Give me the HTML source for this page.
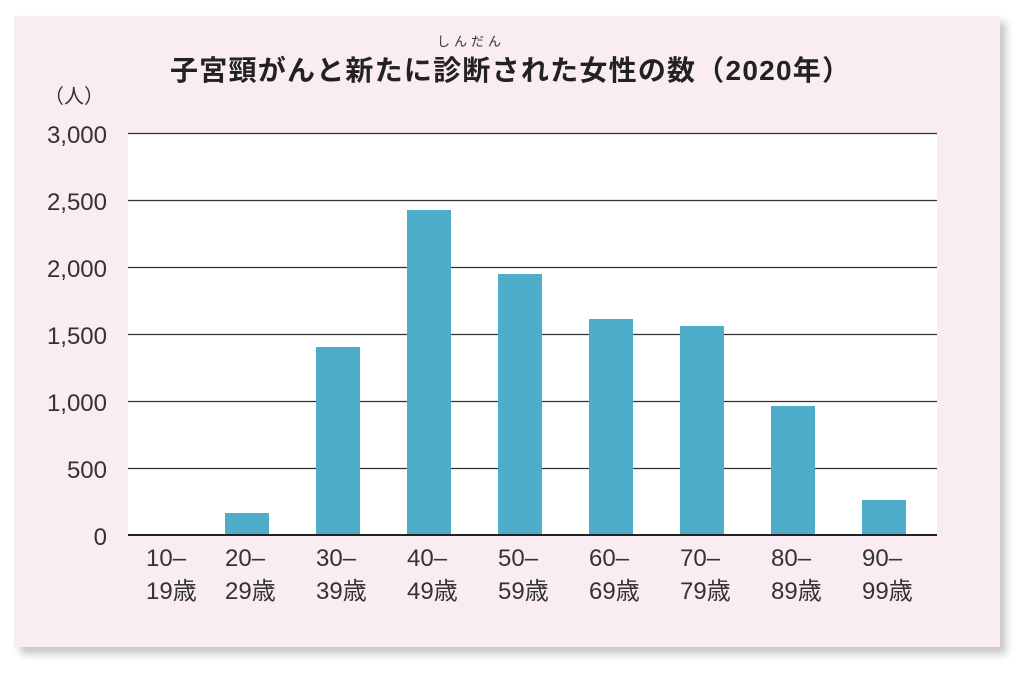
<!DOCTYPE html>
<html><head><meta charset="utf-8"><style>
body{margin:0;background:#fff;width:1024px;height:675px;overflow:hidden}
svg{display:block}
text{font-family:"Liberation Sans","Noto Sans CJK JP",sans-serif}
</style></head><body>
<svg width="1024" height="675" viewBox="0 0 1024 675">
<defs><filter id="sh" x="-5%" y="-5%" width="115%" height="115%"><feGaussianBlur stdDeviation="4"/></filter></defs>
<rect x="20" y="22" width="986" height="632" fill="#999" opacity="0.55" filter="url(#sh)"/>
<rect x="14" y="16" width="986" height="631" fill="#f9edf3"/>
<rect x="128" y="133" width="809" height="402" fill="#fff"/>
<g stroke="#333" stroke-width="1.2">
<line x1="128" y1="133.5" x2="937" y2="133.5"/>
<line x1="128" y1="200.5" x2="937" y2="200.5"/>
<line x1="128" y1="267.5" x2="937" y2="267.5"/>
<line x1="128" y1="334.5" x2="937" y2="334.5"/>
<line x1="128" y1="401.5" x2="937" y2="401.5"/>
<line x1="128" y1="468.5" x2="937" y2="468.5"/>
</g>
<g fill="#4eaec9">
<rect x="225" y="513" width="44" height="22"/>
<rect x="316" y="347" width="44" height="188"/>
<rect x="407" y="210" width="44" height="325"/>
<rect x="498" y="274" width="44" height="261"/>
<rect x="589" y="319" width="44" height="216"/>
<rect x="680" y="326" width="44" height="209"/>
<rect x="771" y="406" width="44" height="129"/>
<rect x="862" y="500" width="44" height="35"/>
</g>
<line x1="128" y1="535" x2="937" y2="535" stroke="#222" stroke-width="2"/>
<g font-size="24" fill="#333" text-anchor="end">
<text x="107" y="143">3,000</text>
<text x="107" y="210">2,500</text>
<text x="107" y="277">2,000</text>
<text x="107" y="344">1,500</text>
<text x="107" y="411">1,000</text>
<text x="107" y="478">500</text>
<text x="107" y="545">0</text>
</g>
<text x="104" y="103" font-size="20" fill="#333" text-anchor="end">（人）</text>
<g font-size="24" fill="#333">
<text x="146" y="566">10–</text><text x="146" y="599">19歳</text>
<text x="225" y="566">20–</text><text x="225" y="599">29歳</text>
<text x="316" y="566">30–</text><text x="316" y="599">39歳</text>
<text x="407" y="566">40–</text><text x="407" y="599">49歳</text>
<text x="498" y="566">50–</text><text x="498" y="599">59歳</text>
<text x="589" y="566">60–</text><text x="589" y="599">69歳</text>
<text x="680" y="566">70–</text><text x="680" y="599">79歳</text>
<text x="771" y="566">80–</text><text x="771" y="599">89歳</text>
<text x="862" y="566">90–</text><text x="862" y="599">99歳</text>
</g>
<text x="437" y="46" font-size="13" fill="#333" textLength="64">しんだん</text>
<text x="170" y="80" font-size="28" font-weight="bold" fill="#222" textLength="680">子宮頸がんと新たに診断された女性の数（2020年）</text>
</svg>
</body></html>
